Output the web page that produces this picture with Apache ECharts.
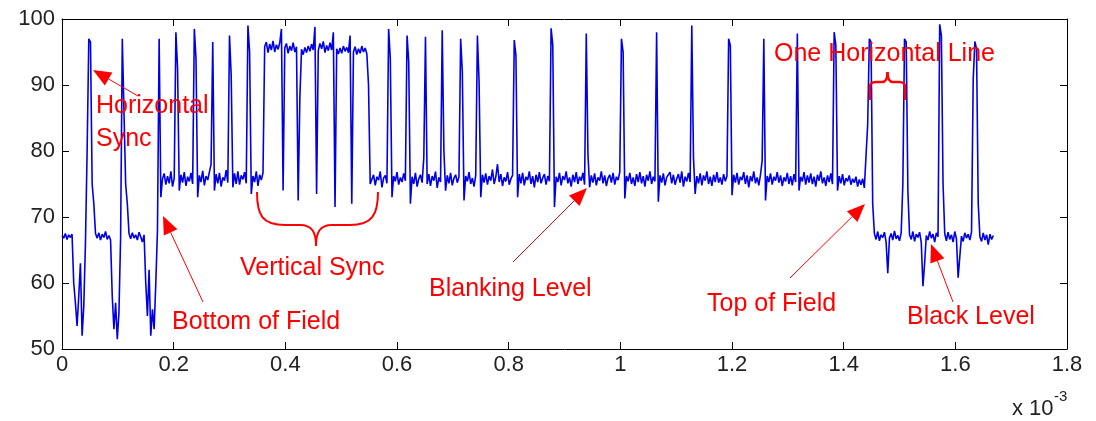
<!DOCTYPE html>
<html>
<head>
<meta charset="utf-8">
<script src="https://cdn.jsdelivr.net/npm/echarts/dist/echarts.min.js"></script>
<style>
html,body{margin:0;padding:0;background:#fff;}
#chart{width:1096px;height:421px;}
</style>
</head>
<body>
<div id="chart"></div>
<script>
const sampleInterval = 0.003;
const xTicks = [0, 0.2, 0.4, 0.6, 0.8, 1, 1.2, 1.4, 1.6, 1.8];
const yTicks = [50, 60, 70, 80, 90, 100];

// Samples 0..58 : bottom of field (black level 67 with sync pulses)
const bottomOfField = [
  67.2, 66.8, 67.5, 66.6, 67.3, 66.9, 67.4, 60, 57, 53.5,
  58, 63, 52, 56.5, 66, 80, 97, 96.5, 75, 72,
  67.5, 66.8, 67.6, 66.5, 67.4, 66.9, 67.8, 66.6, 67.2, 66.5,
  58, 53, 57, 51.5, 55.5, 67, 97, 96.8, 75, 72,
  67.5, 66.7, 67.6, 66.8, 67.3, 66.5, 67.7, 67, 66.2, 67.3,
  60, 55, 62, 52, 56, 53, 60, 68, 97
];
// Samples 59..120 : blanking level before vertical sync
const blankingBeforeVSync = [
  73,
  75.8, 76.6, 74.9, 76.2, 75.1, 76.9, 74.6, 75.9, 98, 92.5,
  74, 76.4, 75.2, 76.8, 74.7, 76.1, 75.4, 76.7, 75, 98.5,
  94, 73, 76.3, 75.3, 77, 74.8, 76.2, 75.6, 76.8, 78,
  96.5, 74, 76.5, 75.1, 76.7, 74.6, 76, 75.5, 77.1, 75.2,
  97.5, 91.5, 74.5, 76.6, 75, 76.9, 74.9, 76.3, 75.7, 76.8,
  75.1, 99, 95, 73.5, 76.2, 75.3, 76.9, 74.7, 76.4, 75.6,
  76.7
];
// Samples 121..184 : vertical sync
const verticalSync = [
  95.8, 96.5, 94.9, 96.2, 95.3, 96.7, 95, 96.1, 95.4, 96.4,
  98.5, 74, 95.6, 96.3, 94.8, 95.9, 95.2, 96.4, 95, 95.8,
  72.5, 88, 95.4, 94.6, 95.7, 94.9, 95.9, 95.1, 96.2, 95.3,
  98.8, 73.5, 95.2, 96.3, 95.5, 96.6, 94.9, 96, 95.2, 96.4,
  95.3, 98, 71.5, 95.5, 94.7, 95.6, 94.8, 95.9, 95.1, 95.7,
  94.9, 97.5, 72, 95, 95.8, 94.6, 95.5, 94.8, 95.9, 95,
  95.6, 94.7, 90, 75
];
// Samples 185..480 : blanking level after vertical sync
const blankingAfterVSync = [
  75.3, 76.4, 74.8, 76.1, 75.6, 76.9, 74.5, 75.9, 76.3, 75.1,
  98.5, 94, 73, 76.2, 75.4, 76.8, 74.9, 76, 75.3, 76.6,
  75.5, 97.5, 93.5, 72, 76.1, 75, 76.7, 74.6, 75.8, 76.4,
  75.2, 79, 97.3, 75, 76.5, 74.7, 76.2, 75.5, 76.9, 74.4,
  76, 75.3, 98.3, 80, 74, 76.3, 75.1, 76.7, 74.8, 75.9,
  76.4, 75.2, 76.1, 97, 92, 72.5, 76.2, 75.4, 76.8, 75,
  75.9, 74.6, 76.3, 97.5, 90.5, 73, 76.4, 75.2, 76.6, 74.9,
  76.2, 75.5, 77.2, 75, 76.1, 78, 75.3, 76.5, 74.7, 76,
  75.4, 76.8, 74.9, 75.8, 76.3, 96.8, 94.5, 73, 76.5, 75.1,
  76.7, 74.8, 76.1, 75.6, 76.9, 75, 76.2, 74.5, 76.4, 75.3,
  76.8, 75.1, 75.9, 76.5, 74.9, 76.2, 75.4, 98.6, 96, 71.5,
  76.1, 75.3, 76.7, 74.8, 76.2, 75.6, 76.9, 75.1, 76, 74.6,
  76.4, 75.3, 76.8, 75, 76.1, 75.5, 76.7, 74.9, 97.8, 79.5,
  74.5, 76.3, 75.2, 76.6, 74.8, 76, 75.5, 76.9, 75.1, 76.3,
  74.7, 75.9, 76.4, 75.2, 76.7, 74.9, 76.1, 75.6, 76.8, 97,
  95, 72.8, 76.2, 75.4, 76.7, 75, 76, 74.7, 76.5, 75.3,
  76.8, 75.1, 76.2, 74.6, 76.4, 75.5, 76.9, 75, 76.1, 75.4,
  98, 72.3, 76.3, 75.2, 76.6, 74.8, 76, 75.7, 76.8, 75.1,
  76.4, 74.9, 75.8, 76.5, 75.2, 76.9, 74.6, 76.1, 75.4, 76.7,
  75.3, 99, 79, 73.5, 76.2, 75.1, 76.6, 74.8, 76.3, 75.5,
  76.9, 75, 76.1, 74.7, 76.4, 75.3, 76.8, 75.2, 76, 74.9,
  76.5, 75.4, 76.2, 97, 96, 73.3, 76.4, 75.2, 76.7, 74.9,
  76.1, 75.6, 76.8, 75, 76.3, 74.5, 76.2, 75.4, 76.9, 75.1,
  76, 74.8, 76.4, 78.5, 97, 72.5, 76.2, 75.3, 76.6, 74.9,
  76.1, 75.5, 76.8, 75.2, 76.3, 74.7, 76, 75.4, 76.7, 75,
  76.2, 74.8, 76.5, 75.3, 97.8, 74, 76.1, 75.4, 76.8, 74.9,
  76.3, 75.2, 76.6, 75, 76.1, 74.6, 76.4, 75.5, 76.9, 75.1,
  76, 74.7, 76.3, 75.3, 76.6, 75, 98, 96, 74, 76.2,
  75.1, 76.5, 74.8, 75.9, 75.4, 76.3, 74.9, 75.8, 75.2, 76.1,
  74.6, 75.7, 74.9, 75.8, 74.4, 74.5
];
// Samples 481..556 : top of field (back to black level)
const topOfField = [
  84, 97, 96.5, 72, 67.5,
  66.6, 67.8, 66.4, 67.3, 66.9, 67.7, 66.2, 61.5, 66.8, 67.5,
  66.5, 67.9, 66.7, 67.2, 66.4, 67.6, 75, 97, 96.5, 74,
  67.3, 66.6, 67.8, 66.3, 67.4, 66.9, 67.7, 66.1, 59.5, 63,
  67.2, 66.5, 67.8, 66.8, 67.4, 66.2, 67.6, 67, 99.2, 97.5,
  75, 67.5, 66.4, 67.7, 66.6, 67.3, 66.2, 67.8, 66.7, 60.8,
  64, 67.1, 66.3, 67.6, 66.8, 67.4, 66.5, 67.7, 90.8, 96.6,
  95.5, 72, 67, 66.3, 67.6, 66.5, 67.3, 65.8, 67.4, 66.6,
  67.2
];

const signal = [].concat(bottomOfField, blankingBeforeVSync, verticalSync, blankingAfterVSync, topOfField);
const seriesData = signal.map((v, i) => [i * sampleInterval, v]);

const RED = '#ff0000';
const ANN_FONT = '25px "Liberation Sans", Arial, Helvetica, sans-serif';

function label(text, x, y) {
  return { type: 'text', x: x, y: y, z: 100,
    style: { text: text, font: ANN_FONT, fill: RED, align: 'left', verticalAlign: 'middle' } };
}
function arrow(x1, y1, x2, y2) {
  const L = 18, W = 7.5;
  const dx = x2 - x1, dy = y2 - y1, len = Math.hypot(dx, dy);
  const ux = dx / len, uy = dy / len;
  const bx = x2 - ux * L, by = y2 - uy * L;
  const px = -uy, py = ux;
  return [
    { type: 'line', z: 100, shape: { x1: x1, y1: y1, x2: bx, y2: by }, style: { stroke: RED, lineWidth: 1 } },
    { type: 'polygon', z: 100, shape: { points: [[x2, y2], [bx + px * W, by + py * W], [bx - px * W, by - py * W]] }, style: { fill: RED } }
  ];
}
function seg(x1, y1, x2, y2, w) {
  return { type: 'line', z: 100, shape: { x1, y1, x2, y2 }, style: { stroke: RED, lineWidth: w, fill: null } };
}
function bez(x1, y1, c1x, c1y, c2x, c2y, x2, y2, w) {
  return { type: 'bezierCurve', z: 100, shape: { x1, y1, x2, y2, cpx1: c1x, cpy1: c1y, cpx2: c2x, cpy2: c2y },
    style: { stroke: RED, lineWidth: w, fill: null } };
}

const graphics = [].concat(
  label('Horizontal', 96, 106),
  label('Sync', 96, 139),
  arrow(138, 96, 93, 70),
  label('Bottom of Field', 172, 322),
  arrow(203, 302, 163, 216),
  label('Vertical Sync', 240, 268),
  bez(257, 192, 257, 215, 262, 225, 285, 225, 2),
  seg(285, 225, 300, 225, 2),
  bez(300, 225, 312, 225, 316, 232, 316, 246, 2),
  bez(316, 246, 316, 232, 320, 225, 332, 225, 2),
  seg(332, 225, 350, 225, 2),
  bez(350, 225, 372, 225, 378, 215, 378, 192, 2),
  label('Blanking Level', 429, 289),
  arrow(513, 262, 587, 188),
  label('Top of Field', 707, 304),
  arrow(790, 278, 865, 204),
  label('One Horizontal Line', 774, 54),
  seg(870, 100, 870, 87, 2.5),
  bez(870, 87, 870, 83, 872, 82, 876, 82, 2.5),
  seg(876, 82, 882, 82, 2.5),
  bez(882, 82, 886, 82, 887.5, 78, 887.5, 72, 2.5),
  bez(887.5, 72, 887.5, 78, 889, 82, 893, 82, 2.5),
  seg(893, 82, 899, 82, 2.5),
  bez(899, 82, 903, 82, 905, 83, 905, 87, 2.5),
  seg(905, 87, 905, 100, 2.5),
  label('Black Level', 907, 317),
  arrow(953, 302, 931, 244),
  { type: 'text', x: 1012, y: 409, z: 100,
    style: { text: 'x 10', font: '22px "Liberation Sans", Arial, sans-serif', fill: '#222', align: 'left', verticalAlign: 'middle' } },
  { type: 'text', x: 1054, y: 397, z: 100,
    style: { text: '-3', font: '15px "Liberation Sans", Arial, sans-serif', fill: '#222', align: 'left', verticalAlign: 'middle' } }
);

const axisFont = { fontSize: 22, color: '#222', fontFamily: '"Liberation Sans", Arial, Helvetica, sans-serif' };
const lineStyleBlack = { color: '#000', width: 1 };

const chart = echarts.init(document.getElementById('chart'), null, { renderer: 'canvas' });
chart.setOption({
  animation: false,
  backgroundColor: '#fff',
  grid: { left: 62, right: 29, top: 19, bottom: 72 },
  xAxis: [
    { type: 'value', min: xTicks[0], max: xTicks[xTicks.length - 1], interval: 0.2,
      axisLine: { show: true, onZero: false, lineStyle: lineStyleBlack },
      axisTick: { show: true, inside: true, length: 7, lineStyle: lineStyleBlack },
      axisLabel: Object.assign({ margin: 5, formatter: v => String(Number(v.toFixed(1))) }, axisFont),
      splitLine: { show: false } },
    { type: 'value', position: 'top', min: xTicks[0], max: xTicks[xTicks.length - 1], interval: 0.2,
      axisLine: { show: true, onZero: false, lineStyle: lineStyleBlack },
      axisTick: { show: true, inside: true, length: 7, lineStyle: lineStyleBlack },
      axisLabel: { show: false }, splitLine: { show: false } }
  ],
  yAxis: [
    { type: 'value', min: yTicks[0], max: yTicks[yTicks.length - 1], interval: 10,
      axisLine: { show: true, onZero: false, lineStyle: lineStyleBlack },
      axisTick: { show: true, inside: true, length: 7, lineStyle: lineStyleBlack },
      axisLabel: Object.assign({ margin: 7 }, axisFont),
      splitLine: { show: false } },
    { type: 'value', position: 'right', min: yTicks[0], max: yTicks[yTicks.length - 1], interval: 10,
      axisLine: { show: true, onZero: false, lineStyle: lineStyleBlack },
      axisTick: { show: true, inside: true, length: 7, lineStyle: lineStyleBlack },
      axisLabel: { show: false }, splitLine: { show: false } }
  ],
  series: [{
    type: 'line', xAxisIndex: 0, yAxisIndex: 0, data: seriesData,
    showSymbol: false, symbol: 'none', sampling: null, clip: true,
    lineStyle: { color: '#0000e6', width: 1.6 }
  }],
  graphic: graphics
});
</script>
</body>
</html>
